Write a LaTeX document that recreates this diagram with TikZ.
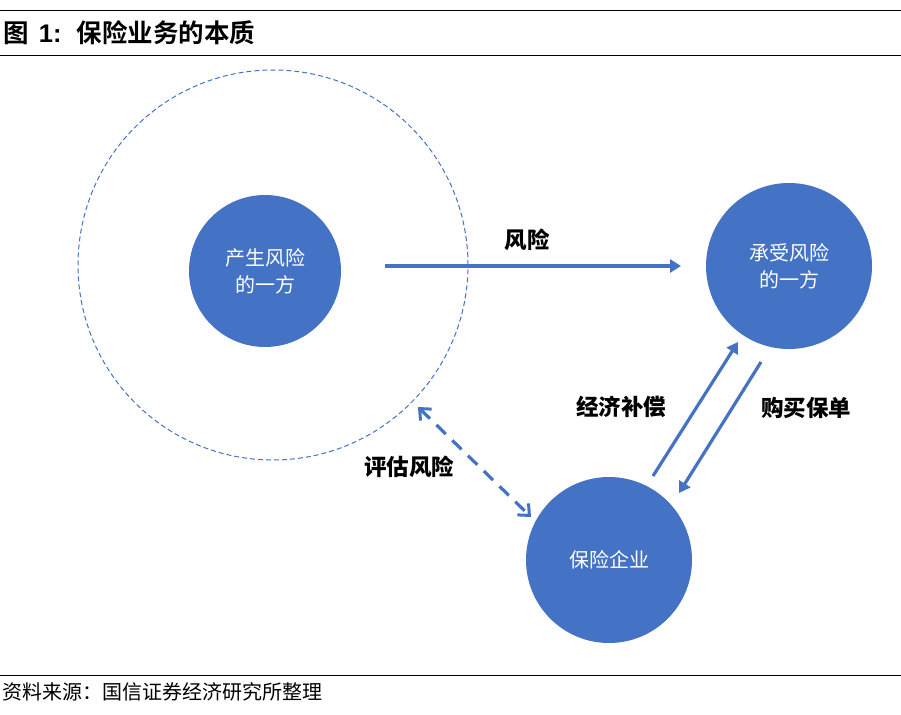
\documentclass[tikz,border=0pt]{standalone}
\usepackage{fontspec}
\setmainfont{Liberation Sans}
\newfontfamily\cjk{Noto Sans CJK SC}
\newfontfamily\cjkb{Noto Sans CJK SC Bold}
\usetikzlibrary{arrows.meta}
\definecolor{bl}{HTML}{4472C4}
\begin{document}
\begin{tikzpicture}[x=1pt,y=-1pt,
  ball/.style={circle,fill=bl,draw=none,text=white,font=\cjk\fontsize{20}{27}\selectfont,align=center,inner sep=0pt},
  lab/.style={font=\cjk\fontsize{22.5}{26}\selectfont\bfseries,text=black,inner sep=0pt},
  conn/.style={draw=bl,line width=3.2pt,-{Triangle[length=11pt,width=13pt]}},
  rule/.style={line width=0.8pt,black}]
\useasboundingbox (0,0) rectangle (901,714);
\coordinate (tl) at (0,10); \coordinate (tr) at (901,10);
\coordinate (ml) at (0,55); \coordinate (mr) at (901,55);
\coordinate (bl0) at (0,675); \coordinate (br0) at (901,675);
\draw[rule] (tl) -- (tr);
\draw[rule] (ml) -- (mr);
\draw[rule] (bl0) -- (br0);
\node[anchor=west,inner sep=0pt,font=\fontsize{25.5}{28}\selectfont] (title) at (3,33) {{\cjkb 图}\hspace{0.4em}\textbf{1:}\hspace{0.6em}{\cjkb 保险业务的本质}};
\node[anchor=west,inner sep=0pt,font=\cjk\fontsize{20}{22}\selectfont] (src) at (2,692) {资料来源：国信证券经济研究所整理};
\node[circle,draw=bl,dash pattern=on 5pt off 3pt,line width=1pt,minimum size=390pt,inner sep=0pt] (zone) at (273,265) {};
\node[ball,minimum size=152pt] (a) at (265,271) {产生风险\\的一方};
\node[ball,minimum size=166pt] (b) at (789,266) {承受风险\\的一方};
\node[ball,minimum size=166pt] (c) at (609,560) {保险企业};
\coordinate (a1) at (385,266); \coordinate (b1) at (681,266);
\draw[conn] (a1) -- (b1);
\node[lab] (l1) at (527,240) {风险};
\coordinate (c1) at (653,476); \coordinate (b2) at (738,342);
\draw[conn] (c1) -- (b2);
\coordinate (b3) at (761,362); \coordinate (c2) at (679,493);
\draw[conn] (b3) -- (c2);
\node[lab] (l2) at (621,407) {经济补偿};
\node[lab] (l3) at (806,408) {购买保单};
\coordinate (z1) at (418,407); \coordinate (c3) at (531,517);
\draw[draw=bl,line width=3.2pt,dash pattern=on 13pt off 9pt,{Straight Barb[length=9pt,width=16pt,line width=3pt]}-{Straight Barb[length=9pt,width=16pt,line width=3pt]}] (z1) -- (c3);
\node[lab] (l4) at (409,467) {评估风险};
\end{tikzpicture}
\end{document}
